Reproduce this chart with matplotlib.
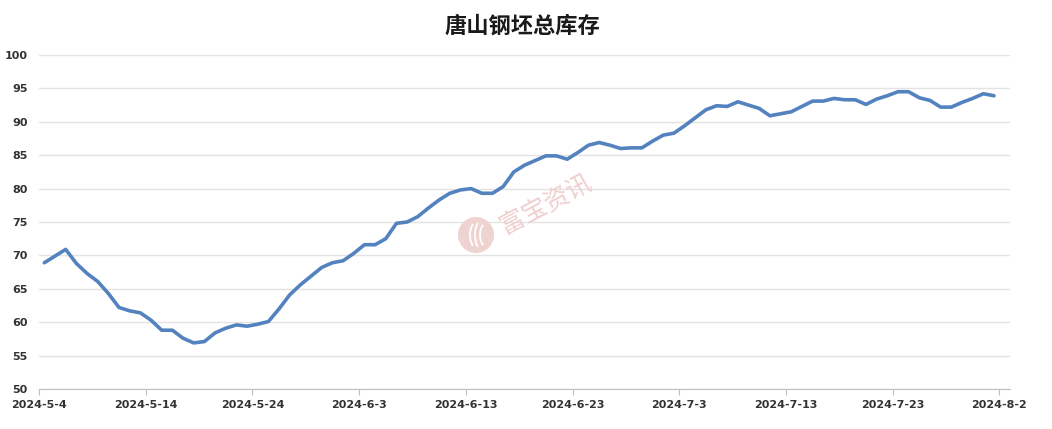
import matplotlib
matplotlib.use("Agg")
import matplotlib.pyplot as plt
import matplotlib.patches as mpatches
import pandas as pd
import numpy as np

# 唐山钢坯总库存 (万吨), daily from 2024-5-4
start_date = "2024-05-04"
stock = [68.9, 69.9, 70.9, 68.8, 67.3, 66.1, 64.3, 62.2, 61.7, 61.4,
         60.3, 58.8, 58.8, 57.6, 56.9, 57.1, 58.4, 59.1, 59.6, 59.4,
         59.7, 60.1, 62.0, 64.1, 65.6, 66.9, 68.2, 68.9, 69.2, 70.3,
         71.6, 71.6, 72.5, 74.8, 75.0, 75.8, 77.1, 78.3, 79.3, 79.8,
         80.0, 79.3, 79.3, 80.3, 82.5, 83.5, 84.2, 84.9, 84.9, 84.4,
         85.4, 86.5, 86.9, 86.5, 86.0, 86.1, 86.1, 87.1, 88.0, 88.3,
         89.4, 90.6, 91.8, 92.4, 92.3, 93.0, 92.5, 92.0, 90.9, 91.2,
         91.5, 92.3, 93.1, 93.1, 93.5, 93.3, 93.3, 92.6, 93.4, 93.9,
         94.5, 94.5, 93.6, 93.2, 92.2, 92.2, 92.9, 93.5, 94.2, 93.9]
tick_dates = ["2024-05-04", "2024-05-14", "2024-05-24", "2024-06-03", "2024-06-13",
              "2024-06-23", "2024-07-03", "2024-07-13", "2024-07-23", "2024-08-02"]
y_ticks = [50, 55, 60, 65, 70, 75, 80, 85, 90, 95, 100]
title = "唐山钢坯总库存"
watermark = "富宝资讯"

plt.rcParams['font.family'] = ['Noto Sans CJK SC', 'DejaVu Sans']

dates = pd.date_range(start_date, periods=len(stock), freq="D")
ticks = pd.to_datetime(tick_dates)

fig = plt.figure(figsize=(10.52, 4.29), dpi=100)
ax = fig.add_axes([39 / 1052, 40 / 429, 971 / 1052, 334 / 429])

# excel date axis puts each point in the middle of its day
ax.plot(dates + pd.Timedelta(hours=12), stock, color="#5382be", lw=2.6,
        solid_joinstyle="round", solid_capstyle="round", zorder=3)

ax.set_xlim(dates[0], dates[0] + pd.Timedelta(days=91))
ax.set_ylim(50, 100)
ax.set_yticks(y_ticks)
ax.set_yticklabels([str(v) for v in y_ticks], family="DejaVu Sans",
                   fontweight="bold", fontsize=8, color="#333333")
ax.set_xticks(ticks)
ax.set_xticklabels([f"{d.year}-{d.month}-{d.day}" for d in ticks],
                   family="DejaVu Sans", fontweight="bold", fontsize=8, color="#333333")
ax.tick_params(axis="y", length=0, pad=8)
ax.tick_params(axis="x", length=4, color="#bfbfbf", pad=4)

ax.grid(axis="y", color="#e3e3e3", lw=1)
ax.set_axisbelow(True)
for s in ["left", "right", "top"]:
    ax.spines[s].set_visible(False)
ax.spines["bottom"].set_color("#bfbfbf")

fig.text(0.497, 0.94, title, ha="center", va="center", fontsize=16,
         fontweight="bold", color="#1a1a1a")

# watermark: round logo with white flame strokes, then the name
tr = fig.dpi_scale_trans
logo = mpatches.Circle((4.76, 1.94), 0.18, transform=tr,
                       facecolor="#efd3d1", edgecolor="none", zorder=1)
fig.add_artist(logo)
for dx, h in [(-0.05, 0.26), (0.0, 0.3), (0.05, 0.24)]:
    arc = mpatches.Arc((4.76 + dx + 0.06, 1.94), 0.14, h, theta1=110, theta2=250,
                       transform=tr, color="white", lw=1.3, zorder=2)
    fig.add_artist(arc)
fig.text(0.519, 0.525, watermark, ha="center", va="center", fontsize=18,
         rotation=28, color="#efcfcd")

fig.savefig("out.png", dpi=100, facecolor="white")
